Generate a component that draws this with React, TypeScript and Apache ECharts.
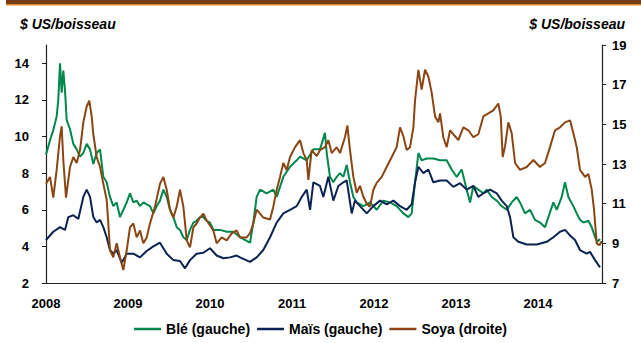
import React, { useEffect, useRef } from "react";
import * as echarts from "echarts";

// Decimal year, value (US$ per bushel)
const ble: [number, number][] = [
  [2008.0, 9.0], [2008.049, 9.8], [2008.089, 10.35], [2008.13, 11.1], [2008.15, 12.0], [2008.171, 14.0],
  [2008.191, 12.4], [2008.211, 13.6], [2008.232, 12.5], [2008.252, 10.9], [2008.293, 10.4], [2008.333, 9.6],
  [2008.374, 9.3], [2008.415, 8.9], [2008.455, 9.1], [2008.496, 9.6], [2008.537, 9.3], [2008.577, 8.5],
  [2008.618, 9.1], [2008.659, 9.3], [2008.699, 7.8], [2008.74, 7.5], [2008.78, 6.7], [2008.821, 6.2],
  [2008.862, 6.4], [2008.902, 5.6], [2008.943, 6.0], [2008.984, 6.4], [2009.024, 6.9], [2009.065, 6.4],
  [2009.106, 6.5], [2009.146, 6.2], [2009.187, 6.4], [2009.228, 6.3], [2009.268, 6.2], [2009.309, 5.8],
  [2009.35, 6.2], [2009.39, 6.5], [2009.431, 7.1], [2009.472, 6.7], [2009.512, 6.0], [2009.553, 5.6],
  [2009.594, 5.05], [2009.634, 4.9], [2009.675, 4.5], [2009.716, 4.35], [2009.756, 4.9], [2009.797, 5.3],
  [2009.837, 5.4], [2009.878, 5.6], [2009.919, 5.6], [2009.959, 5.4], [2010.0, 5.3], [2010.041, 4.9],
  [2010.122, 4.9], [2010.204, 4.8], [2010.284, 4.8], [2010.366, 4.5], [2010.447, 4.3], [2010.488, 4.2],
  [2010.528, 5.3], [2010.569, 6.7], [2010.61, 7.1], [2010.691, 6.9], [2010.772, 7.1], [2010.813, 6.7],
  [2010.854, 7.25], [2010.894, 7.8], [2010.976, 8.35], [2011.057, 8.7], [2011.098, 8.9], [2011.179, 8.7],
  [2011.26, 9.3], [2011.341, 9.3], [2011.402, 10.2], [2011.423, 9.1], [2011.463, 7.8], [2011.504, 7.5],
  [2011.545, 7.8], [2011.585, 8.0], [2011.626, 7.8], [2011.667, 8.45], [2011.707, 7.5], [2011.748, 6.7],
  [2011.789, 6.4], [2011.87, 6.2], [2011.951, 6.4], [2012.033, 6.0], [2012.114, 6.5], [2012.195, 6.4],
  [2012.276, 6.2], [2012.358, 5.8], [2012.419, 5.6], [2012.459, 5.8], [2012.5, 7.5], [2012.541, 9.1],
  [2012.581, 8.7], [2012.642, 8.8], [2012.723, 8.8], [2012.805, 8.7], [2012.886, 8.7], [2012.947, 8.2],
  [2013.008, 7.8], [2013.069, 8.2], [2013.13, 7.1], [2013.171, 6.4], [2013.211, 7.3], [2013.272, 7.1],
  [2013.333, 6.9], [2013.374, 7.1], [2013.435, 6.7], [2013.496, 6.5], [2013.557, 6.2], [2013.618, 6.0],
  [2013.679, 6.4], [2013.74, 6.7], [2013.78, 6.4], [2013.841, 5.8], [2013.902, 6.0], [2013.963, 5.45],
  [2014.024, 5.3], [2014.085, 5.05], [2014.126, 5.6], [2014.187, 6.4], [2014.228, 6.0], [2014.289, 6.7],
  [2014.329, 7.5], [2014.37, 6.7], [2014.431, 6.2], [2014.472, 5.8], [2014.512, 5.45], [2014.553, 5.3],
  [2014.614, 5.4], [2014.655, 5.05], [2014.695, 4.5], [2014.724, 4.25], [2014.756, 4.4],
];

const mais: [number, number][] = [
  [2008.0, 4.35], [2008.089, 4.8], [2008.171, 5.05], [2008.232, 4.9], [2008.272, 5.6], [2008.333, 5.7],
  [2008.394, 5.5], [2008.455, 6.7], [2008.496, 7.1], [2008.537, 6.7], [2008.577, 5.6], [2008.618, 5.3],
  [2008.659, 5.45], [2008.699, 5.05], [2008.74, 4.5], [2008.78, 3.8], [2008.821, 3.6], [2008.862, 3.8],
  [2008.923, 3.1], [2008.984, 3.6], [2009.065, 3.6], [2009.146, 3.4], [2009.228, 3.75], [2009.309, 4.0],
  [2009.39, 4.2], [2009.472, 3.6], [2009.553, 3.25], [2009.634, 3.2], [2009.695, 2.8], [2009.756, 3.25],
  [2009.837, 3.6], [2009.919, 3.65], [2010.0, 3.9], [2010.081, 3.5], [2010.163, 3.35], [2010.244, 3.4],
  [2010.325, 3.5], [2010.366, 3.4], [2010.488, 3.15], [2010.569, 3.4], [2010.65, 3.8], [2010.732, 4.5],
  [2010.813, 5.3], [2010.894, 5.8], [2010.976, 6.0], [2011.057, 6.2], [2011.118, 6.7], [2011.179, 7.1],
  [2011.22, 6.0], [2011.26, 7.5], [2011.341, 7.3], [2011.382, 6.7], [2011.443, 7.8], [2011.504, 6.5],
  [2011.565, 7.3], [2011.626, 7.5], [2011.667, 7.6], [2011.728, 5.8], [2011.768, 6.5], [2011.829, 6.2],
  [2011.911, 5.8], [2011.992, 6.2], [2012.073, 6.5], [2012.154, 6.3], [2012.236, 6.5], [2012.317, 6.2],
  [2012.398, 6.0], [2012.459, 6.3], [2012.5, 7.5], [2012.541, 8.35], [2012.602, 8.0], [2012.663, 8.2],
  [2012.723, 7.5], [2012.805, 7.6], [2012.886, 7.6], [2012.967, 7.25], [2013.049, 7.45], [2013.13, 7.1],
  [2013.211, 7.3], [2013.272, 6.7], [2013.333, 6.9], [2013.415, 7.1], [2013.496, 6.9], [2013.557, 6.5],
  [2013.618, 6.2], [2013.659, 5.6], [2013.699, 4.5], [2013.76, 4.25], [2013.862, 4.1], [2013.984, 4.1],
  [2014.106, 4.25], [2014.187, 4.5], [2014.268, 4.8], [2014.329, 4.9], [2014.39, 4.6], [2014.451, 4.35],
  [2014.512, 3.8], [2014.593, 3.6], [2014.634, 3.7], [2014.695, 3.25], [2014.756, 2.85],
];

const soya: [number, number][] = [
  [2008.0, 12.0], [2008.049, 12.35], [2008.089, 11.3], [2008.13, 12.7], [2008.171, 14.4], [2008.191, 14.9],
  [2008.211, 13.2], [2008.244, 11.3], [2008.293, 12.85], [2008.333, 13.35], [2008.374, 13.05], [2008.415, 13.7],
  [2008.455, 15.1], [2008.496, 15.9], [2008.528, 16.2], [2008.557, 15.4], [2008.577, 14.5], [2008.618, 13.35],
  [2008.659, 12.85], [2008.699, 12.0], [2008.74, 11.2], [2008.76, 10.0], [2008.78, 8.65], [2008.821, 8.3],
  [2008.862, 9.0], [2008.902, 8.3], [2008.943, 7.65], [2008.984, 8.65], [2009.024, 9.8], [2009.065, 10.0],
  [2009.106, 9.3], [2009.146, 9.65], [2009.187, 9.0], [2009.228, 9.3], [2009.268, 10.0], [2009.329, 10.85],
  [2009.39, 12.0], [2009.431, 12.35], [2009.472, 11.7], [2009.512, 10.7], [2009.553, 10.3], [2009.594, 10.85],
  [2009.634, 11.7], [2009.675, 10.85], [2009.716, 9.15], [2009.756, 8.8], [2009.797, 9.8], [2009.837, 10.0],
  [2009.878, 10.3], [2009.919, 10.5], [2009.959, 10.15], [2010.041, 9.65], [2010.081, 9.0], [2010.142, 9.3],
  [2010.204, 9.15], [2010.264, 9.5], [2010.325, 9.65], [2010.366, 9.3], [2010.447, 9.3], [2010.488, 9.5],
  [2010.528, 10.0], [2010.569, 10.7], [2010.65, 10.3], [2010.732, 10.2], [2010.772, 10.85], [2010.813, 11.7],
  [2010.854, 12.35], [2010.894, 13.05], [2010.935, 12.7], [2010.976, 13.35], [2011.037, 13.85], [2011.098, 14.2],
  [2011.138, 13.55], [2011.179, 13.2], [2011.199, 12.2], [2011.24, 13.7], [2011.301, 13.4], [2011.341, 13.7],
  [2011.402, 13.85], [2011.443, 14.2], [2011.484, 13.55], [2011.545, 13.85], [2011.585, 13.55], [2011.646, 14.35],
  [2011.675, 14.95], [2011.707, 13.7], [2011.748, 12.35], [2011.789, 11.55], [2011.829, 11.9], [2011.87, 11.35],
  [2011.911, 11.0], [2011.951, 10.85], [2011.992, 11.7], [2012.033, 12.05], [2012.094, 12.35], [2012.154, 12.85],
  [2012.216, 13.35], [2012.276, 13.85], [2012.317, 14.85], [2012.358, 14.4], [2012.398, 13.7], [2012.439, 13.85],
  [2012.48, 14.85], [2012.5, 16.2], [2012.541, 17.75], [2012.581, 16.75], [2012.622, 17.75], [2012.663, 17.4],
  [2012.703, 16.6], [2012.744, 15.4], [2012.785, 15.1], [2012.805, 15.55], [2012.845, 14.35], [2012.886, 13.85],
  [2012.927, 14.7], [2012.967, 14.5], [2013.028, 14.2], [2013.089, 14.85], [2013.15, 14.7], [2013.211, 14.35],
  [2013.272, 14.5], [2013.333, 15.4], [2013.394, 15.55], [2013.455, 15.7], [2013.516, 16.05], [2013.545, 15.4],
  [2013.569, 13.35], [2013.598, 13.9], [2013.638, 15.1], [2013.679, 14.55], [2013.72, 13.05], [2013.78, 12.7],
  [2013.862, 12.85], [2013.943, 13.2], [2014.024, 12.85], [2014.085, 13.05], [2014.146, 13.85], [2014.207, 14.7],
  [2014.268, 14.85], [2014.329, 15.1], [2014.39, 15.2], [2014.431, 14.55], [2014.472, 13.85], [2014.512, 12.7],
  [2014.573, 12.35], [2014.614, 12.5], [2014.655, 11.7], [2014.683, 10.7], [2014.715, 9.0], [2014.748, 8.9],
  [2014.776, 9.1],
];

const seriesNames = ["Blé (gauche)", "Maïs (gauche)", "Soya (droite)"];
const seriesColors = ["#00874B", "#0B2352", "#8B4513"];
const axisTitle = "$ US/boisseau";
const xMin = 2008;
const xMax = 2014.78;
const lastYearLabel = 2014;

const FONT = "'Liberation Sans', Arial, sans-serif";

export default function App() {
  const ref = useRef<HTMLDivElement>(null);
  useEffect(() => {
    document.body.style.margin = "0";
    const chart = echarts.init(ref.current!, undefined, { renderer: "svg" });
    const labelStyle = { fontFamily: FONT, fontWeight: "bold" as const, fontSize: 13, color: "#000" };
    chart.setOption({
      animation: false,
      backgroundColor: "#fff",
      graphic: [
        { type: "rect", shape: { x: 6, y: 0, width: 635, height: 4 }, style: { fill: "#773B10" } },
        { type: "rect", shape: { x: 6, y: 4, width: 635, height: 1.5 }, style: { fill: "#E0872C" } },
      ],
      title: [
        {
          text: axisTitle, left: 15, top: 12,
          textStyle: { fontFamily: FONT, fontWeight: "bold", fontStyle: "italic", fontSize: 14, color: "#000" },
        },
        {
          text: axisTitle, right: 11, top: 12,
          textStyle: { fontFamily: FONT, fontWeight: "bold", fontStyle: "italic", fontSize: 14, color: "#000" },
        },
      ],
      legend: {
        data: seriesNames,
        left: "center",
        top: 322,
        padding: 0,
        icon: "rect",
        itemWidth: 27,
        itemHeight: 2.5,
        itemGap: 7,
        textStyle: { fontFamily: FONT, fontWeight: "bold", fontSize: 14, color: "#000" },
      },
      grid: { left: 46, right: 39, top: 45, bottom: 60 },
      xAxis: {
        type: "value",
        min: xMin,
        max: xMax,
        interval: 1,
        splitLine: { show: false },
        axisLine: { lineStyle: { color: "#222", width: 1.2 } },
        axisTick: { show: false },
        axisLabel: {
          ...labelStyle,
          margin: 14,
          showMaxLabel: false,
          formatter: (v: number) => (Number.isInteger(v) && v <= lastYearLabel ? String(v) : ""),
        },
      },
      yAxis: [
        {
          type: "value",
          min: 2,
          max: 15,
          interval: 2,
          position: "left",
          splitLine: { show: false },
          axisLine: { show: true, lineStyle: { color: "#222", width: 1.2 } },
          axisTick: { show: true, length: 4, lineStyle: { color: "#222" } },
          axisLabel: {
            ...labelStyle,
            margin: 17,
            showMaxLabel: false,
            formatter: (v: number) => (v % 2 === 0 ? String(v) : ""),
          },
        },
        {
          type: "value",
          min: 7,
          max: 19,
          interval: 2,
          position: "right",
          splitLine: { show: false },
          axisLine: { show: true, lineStyle: { color: "#222", width: 1.2 } },
          axisTick: { show: true, length: 4, lineStyle: { color: "#222" } },
          axisLabel: { ...labelStyle, margin: 10 },
        },
      ],
      series: [
        { name: seriesNames[0], type: "line", data: ble, yAxisIndex: 0, showSymbol: false, color: seriesColors[0], lineStyle: { width: 2, color: seriesColors[0] } },
        { name: seriesNames[1], type: "line", data: mais, yAxisIndex: 0, showSymbol: false, color: seriesColors[1], lineStyle: { width: 2, color: seriesColors[1] } },
        { name: seriesNames[2], type: "line", data: soya, yAxisIndex: 1, showSymbol: false, color: seriesColors[2], lineStyle: { width: 2, color: seriesColors[2] } },
      ],
    });
    return () => chart.dispose();
  }, []);
  return <div ref={ref} style={{ position: "fixed", left: 0, top: 0, width: 641, height: 343 }} />;
}
